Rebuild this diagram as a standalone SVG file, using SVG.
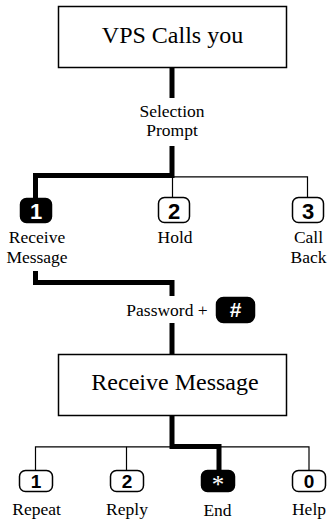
<svg xmlns="http://www.w3.org/2000/svg" width="329" height="521" viewBox="0 0 329 521">
<style>
.box{fill:#fff;stroke:#000;stroke-width:1.5}
.t{font-family:"Liberation Serif","Times New Roman","DejaVu Serif",serif;fill:#000;text-anchor:middle}
.big{font-size:24px}
.lbl{font-size:17.5px}
.keyo{fill:#fff;stroke:#000;stroke-width:1.5}
.keyf{fill:#000;stroke:#000;stroke-width:1.5}
.k{font-family:"Liberation Sans",Arial,sans-serif;font-weight:bold;text-anchor:middle;fill:#000}
.w{fill:#fff}
.thick{fill:none;stroke:#000;stroke-width:5}
.thin{fill:none;stroke:#000;stroke-width:1.2}
</style>
<rect width="329" height="521" fill="#fff"/>
<g id="connectors">
<path class="thick" d="M172,68 V98"/>
<path class="thick" d="M172,146 V175.5 H35.5 V199"/>
<path class="thin" d="M172,176.8 H307.5 V198"/>
<path class="thin" d="M172.5,176 V197"/>
<path class="thick" d="M35.5,271 V282.5 H172 V296"/>
<path class="thick" d="M172,323 V354"/>
<path class="thick" d="M172,415 V446.5 H219 V471"/>
<path class="thin" d="M35.5,471 V446.8 H309 V471"/>
<path class="thin" d="M126.5,446.8 V471"/>
</g>
<g id="vps">
<rect class="box" x="58.5" y="6.5" width="228" height="61"/>
<text class="t big" x="172.5" y="43">VPS Calls you</text>
</g>
<g id="selection-prompt">
<text class="t lbl" x="172" y="116.5">Selection</text>
<text class="t lbl" x="172" y="136">Prompt</text>
</g>
<g id="key1-receive">
<rect class="keyf" x="20.5" y="198.5" width="31" height="24" rx="6"/>
<text class="k w" x="36" y="218.5" font-size="22">1</text>
<text class="t lbl" x="37" y="243">Receive</text>
<text class="t lbl" x="37" y="263">Message</text>
</g>
<g id="key2-hold">
<rect class="keyo" x="158.5" y="197.5" width="31" height="25" rx="6"/>
<text class="k" x="174" y="218.5" font-size="22">2</text>
<text class="t lbl" x="175" y="243">Hold</text>
</g>
<g id="key3-callback">
<rect class="keyo" x="292.5" y="197.5" width="31" height="25" rx="6"/>
<text class="k" x="308" y="218.5" font-size="22">3</text>
<text class="t lbl" x="308.5" y="243">Call</text>
<text class="t lbl" x="308.5" y="263">Back</text>
</g>
<g id="password">
<text class="t lbl" x="167" y="316">Password +</text>
<rect class="keyf" x="216.5" y="297.5" width="38" height="25" rx="7"/>
<text class="k w" x="235.5" y="317" font-size="21">#</text>
</g>
<g id="receive-message">
<rect class="box" x="58.5" y="354.5" width="228" height="61"/>
<text class="t big" x="175" y="390">Receive Message</text>
</g>
<g id="key-repeat">
<rect class="keyo" x="19.5" y="470.5" width="33" height="21" rx="6"/>
<text class="k" x="36" y="488" font-size="19">1</text>
<text class="t lbl" x="36.5" y="515">Repeat</text>
</g>
<g id="key-reply">
<rect class="keyo" x="110.5" y="470.5" width="33" height="21" rx="6"/>
<text class="k" x="127" y="488" font-size="19">2</text>
<text class="t lbl" x="127" y="515">Reply</text>
</g>
<g id="key-end">
<rect class="keyf" x="201.5" y="470.5" width="33" height="21" rx="6"/>
<text class="t w" x="218" y="493" font-size="25">*</text>
<text class="t lbl" x="217.5" y="516">End</text>
</g>
<g id="key-help">
<rect class="keyo" x="292.5" y="470.5" width="33" height="21" rx="6"/>
<text class="k" x="309" y="488" font-size="19">0</text>
<text class="t lbl" x="309" y="515">Help</text>
</g>
</svg>
